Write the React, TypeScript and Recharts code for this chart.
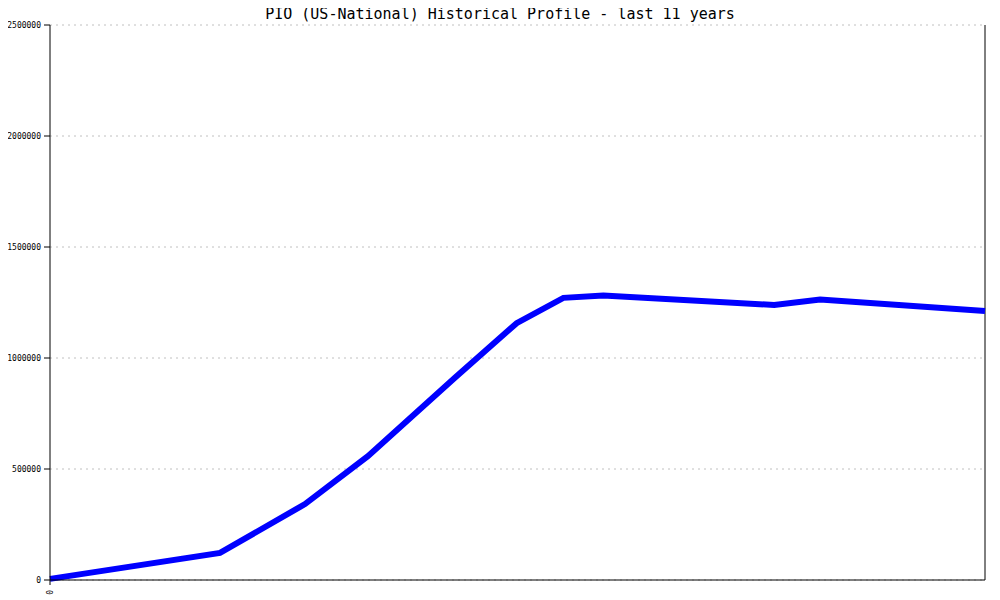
import React from "react";
import { LineChart, Line, XAxis, YAxis, CartesianGrid, ReferenceLine } from "recharts";

const title = "PIO (US-National) Historical Profile - last 11 years";
const xPositions = [0, 2.0, 3.0, 3.74, 4.76, 5.49, 6.04, 6.51, 8.52, 9.06, 11.0];
const values = [5000, 122000, 342000, 558000, 910000, 1157000, 1271000, 1281000, 1239000, 1263000, 1212000];
const yTicks = [0, 500000, 1000000, 1500000, 2000000, 2500000];
const xTicks = [0];

const data = xPositions.map((x, i) => ({ x, v: values[i] }));

const mono = "'DejaVu Sans Mono', 'Liberation Mono', monospace";

const renderXTick = (props: any) => {
  const { x, y, payload } = props;
  return (
    <g transform={`translate(${x},${y})`}>
      <text
        x={0}
        y={0}
        transform="rotate(-90)"
        dx={-3}
        dy={3}
        fontFamily={mono}
        fontSize={8}
        fill="#000"
        textAnchor="end"
      >
        {String(payload.value)}
      </text>
    </g>
  );
};

export default function App() {
  return (
    <div style={{ position: "relative", width: 992, height: 592 }}>
      <LineChart
        width={992}
        height={592}
        data={data}
        margin={{ top: 17, right: 15, bottom: 0, left: 0 }}
      >
        <CartesianGrid
          horizontal={true}
          vertical={false}
          stroke="#c0c0c0"
          strokeDasharray="2 4"
        />
        <XAxis
          dataKey="x"
          type="number"
          domain={[0, 11]}
          ticks={xTicks}
          height={20}
          tickSize={5}
          tick={renderXTick}
          axisLine={{ stroke: "#000", strokeWidth: 1 }}
          tickLine={{ stroke: "#000" }}
          interval={0}
        />
        <YAxis
          type="number"
          domain={[0, 2500000]}
          ticks={yTicks}
          width={42}
          tickSize={6}
          tickMargin={3}
          tick={{ fontFamily: mono, fontSize: 8, fill: "#000" }}
          axisLine={{ stroke: "#000", strokeWidth: 1 }}
          tickLine={{ stroke: "#000" }}
          interval={0}
        />
        <ReferenceLine x={11} stroke="#000" strokeWidth={1} />
        <Line
          dataKey="v"
          type="linear"
          stroke="#0000ff"
          strokeWidth={6}
          dot={false}
          isAnimationActive={false}
        />
      </LineChart>
      <div
        style={{
          position: "absolute",
          left: -8,
          top: -3,
          width: 1000,
          textAlign: "center",
          fontFamily: mono,
          fontSize: 15,
          color: "#000",
          lineHeight: "18px",
          zIndex: 2,
        }}
      >
        {title}
      </div>
    </div>
  );
}
